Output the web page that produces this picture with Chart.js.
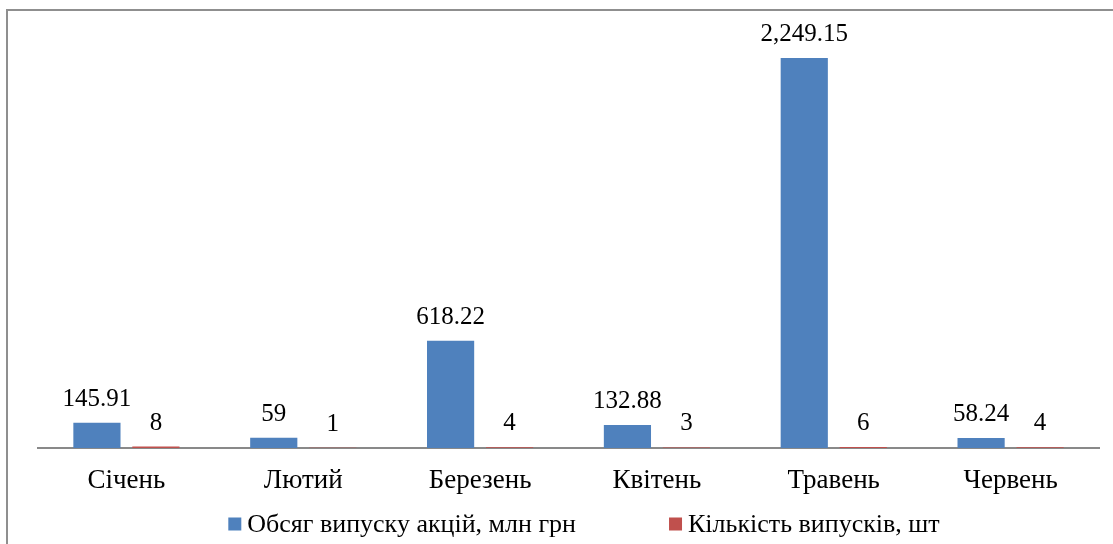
<!DOCTYPE html>
<html>
<head>
<meta charset="utf-8">
<script src="https://cdn.jsdelivr.net/npm/chart.js@4/dist/chart.umd.min.js"></script>
<style>
  html, body { margin: 0; padding: 0; background: #fff; overflow: hidden; }
  #wrap { position: relative; width: 1113px; height: 544px; }
  #frame { position: absolute; left: 6px; top: 9px; width: 1200px; height: 600px; border: 2px solid #8f8f8f; box-sizing: border-box; pointer-events: none; }
  canvas { position: absolute; left: 0; top: 0; }
</style>
</head>
<body>
<div id="wrap">
  <canvas id="c" width="1113" height="544"></canvas>
  <div id="frame"></div>
</div>
<script>
const categories = ['Січень', 'Лютий', 'Березень', 'Квітень', 'Травень', 'Червень'];
const volumeValues = [145.91, 59, 618.22, 132.88, 2249.15, 58.24];
const countValues = [8, 1, 4, 3, 6, 4];
const seriesNames = ['Обсяг випуску акцій, млн грн', 'Кількість випусків, шт'];
const seriesColors = ['#4F81BD', '#C0504D'];
const yMin = 0;
const yMax = 2500;

const SERIF = '"Liberation Serif", "Times New Roman", serif';

const valueLabels = {
  id: 'valueLabels',
  afterDatasetsDraw(chart) {
    const ctx = chart.ctx;
    ctx.save();
    ctx.font = '25px ' + SERIF;
    ctx.fillStyle = '#000';
    ctx.textAlign = 'center';
    ctx.textBaseline = 'alphabetic';
    chart.data.datasets.forEach((ds, di) => {
      const meta = chart.getDatasetMeta(di);
      meta.data.forEach((bar, i) => {
        const v = ds.data[i];
        const txt = v.toLocaleString('en-US', { maximumFractionDigits: 2 });
        ctx.fillText(txt, bar.x, bar.y - 17);
      });
    });
    ctx.restore();
  }
};

const bottomLegend = {
  id: 'bottomLegend',
  afterDraw(chart) {
    const ctx = chart.ctx;
    ctx.save();
    ctx.font = '26px ' + SERIF;
    ctx.textBaseline = 'middle';
    ctx.textAlign = 'left';
    const box = 13, gapText = 6, gapItem = 93, centerX = 584, cy = 524;
    const items = chart.data.datasets.map(ds => ({ text: ds.label, color: ds.backgroundColor, w: ctx.measureText(ds.label).width }));
    let total = 0;
    items.forEach((it, i) => { total += box + gapText + it.w + (i < items.length - 1 ? gapItem : 0); });
    let x = centerX - total / 2;
    items.forEach(it => {
      ctx.fillStyle = it.color;
      ctx.fillRect(x, cy - box / 2, box, box);
      ctx.fillStyle = '#000';
      ctx.fillText(it.text, x + box + gapText, cy + 1);
      x += box + gapText + it.w + gapItem;
    });
    ctx.restore();
  }
};

new Chart(document.getElementById('c'), {
  type: 'bar',
  data: {
    labels: categories,
    datasets: [
      { label: seriesNames[0], data: volumeValues, backgroundColor: seriesColors[0], categoryPercentage: 0.667, barPercentage: 0.8 },
      { label: seriesNames[1], data: countValues, backgroundColor: seriesColors[1], categoryPercentage: 0.667, barPercentage: 0.8 }
    ]
  },
  options: {
    responsive: false,
    animation: false,
    devicePixelRatio: 1,
    layout: { padding: { left: 38, right: 14, top: 14.5, bottom: 0 } },
    plugins: {
      legend: { display: false },
      tooltip: { enabled: false },
      title: { display: false }
    },
    scales: {
      x: {
        grid: { display: false, drawTicks: false },
        border: { display: true, color: '#898989', width: 2 },
        ticks: { color: '#000', font: { family: SERIF, size: 27 }, padding: 16.5, maxRotation: 0 },
        afterFit(scale) { scale.height = 96; }
      },
      y: {
        display: false,
        min: yMin,
        max: yMax
      }
    }
  },
  plugins: [valueLabels, bottomLegend]
});
</script>
</body>
</html>
